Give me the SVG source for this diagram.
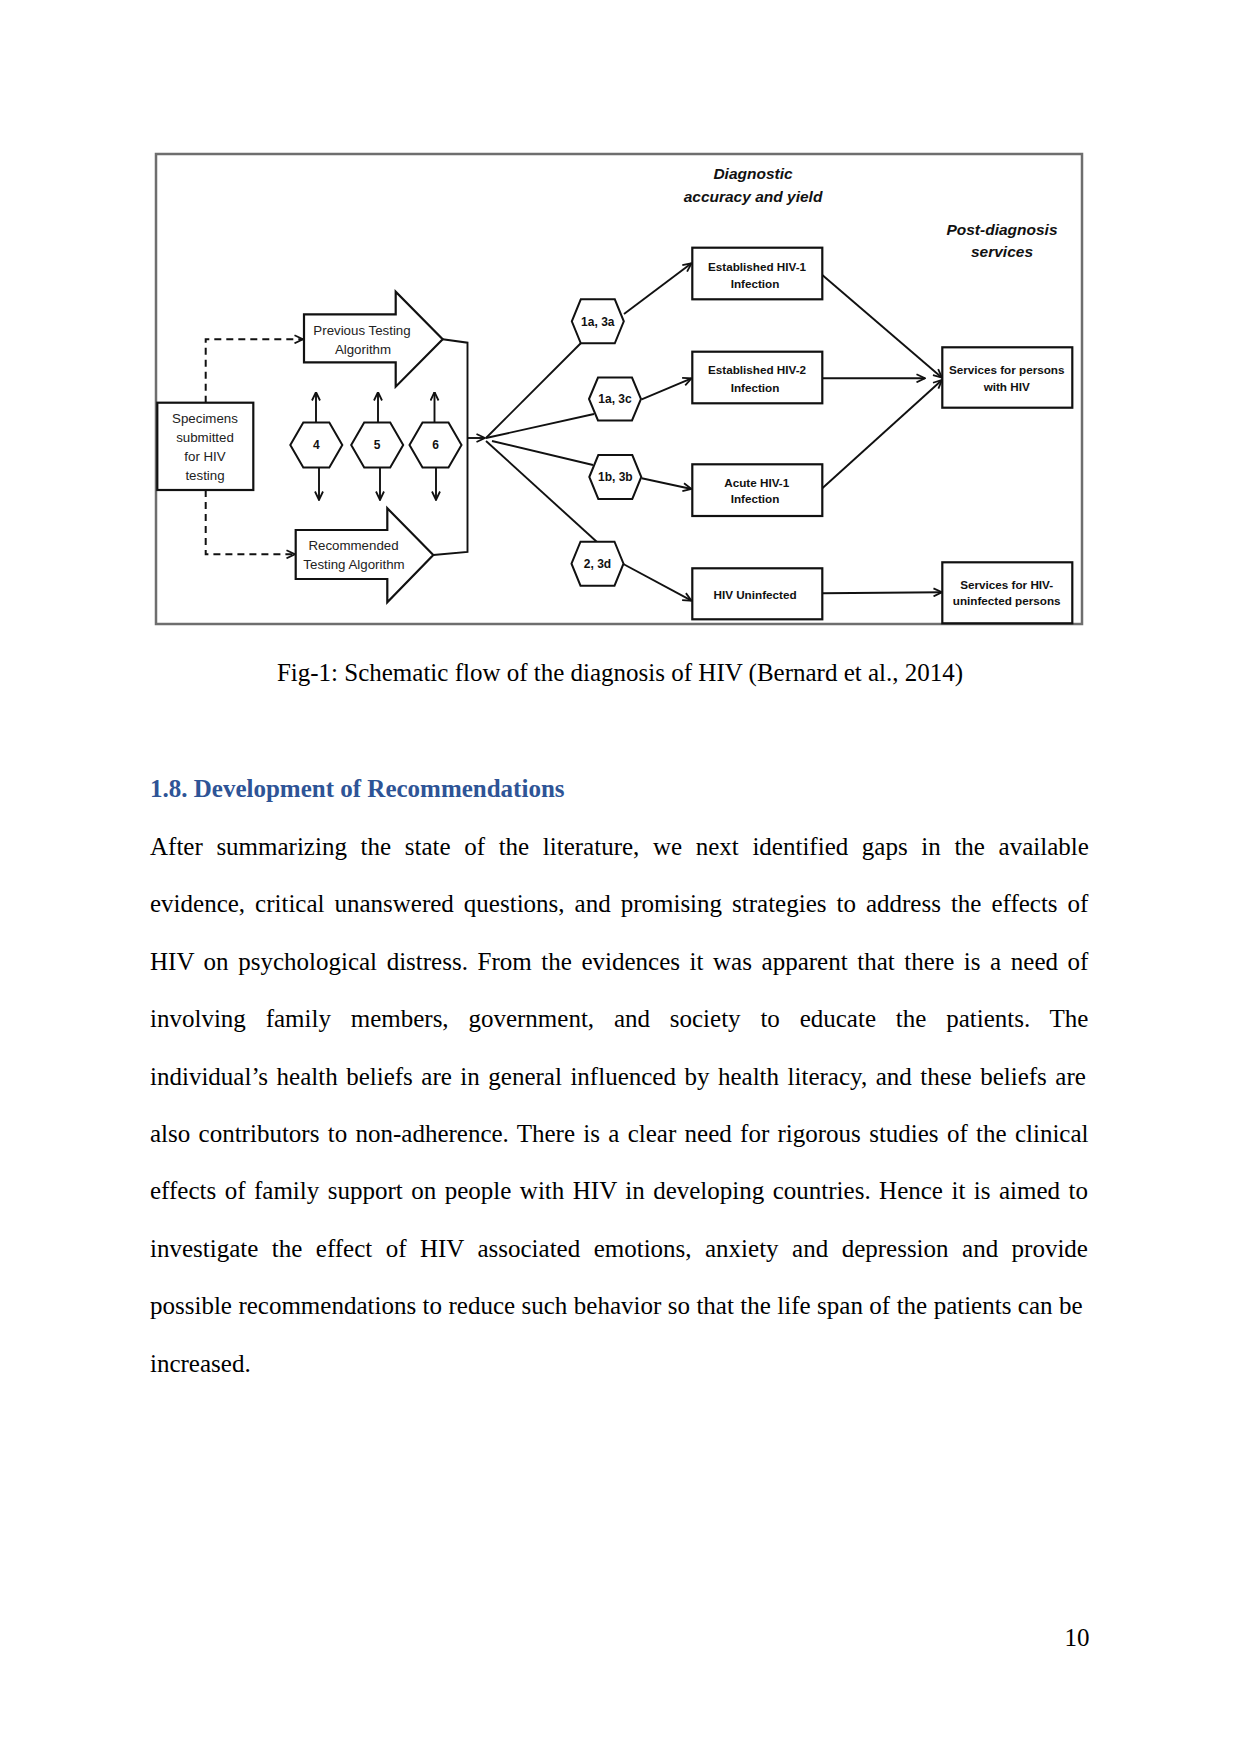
<svg xmlns="http://www.w3.org/2000/svg" width="1241" height="1754" viewBox="0 0 1241 1754">
<style>
.bg{fill:#ffffff}
.frame{fill:none;stroke:#6e6e6e;stroke-width:2.5}
.box{fill:#ffffff;stroke:#111;stroke-width:2.2}
.hex{fill:#ffffff;stroke:#111;stroke-width:2}
.ln{fill:none;stroke:#111;stroke-width:1.9}
.dash{fill:none;stroke:#111;stroke-width:2;stroke-dasharray:7,5}
.arr{marker-end:url(#open)}
.t{font-family:"Liberation Sans",Arial,sans-serif;font-size:13.3px;fill:#222;text-anchor:middle}
.tb{font-family:"Liberation Sans",Arial,sans-serif;font-size:11.7px;font-weight:bold;fill:#111;text-anchor:middle}
.th{font-family:"Liberation Sans",Arial,sans-serif;font-size:12px;font-weight:bold;fill:#111;text-anchor:middle}
.ti{font-family:"Liberation Sans",Arial,sans-serif;font-size:15.5px;font-weight:bold;font-style:italic;fill:#111;text-anchor:middle}
.body{font-family:"Liberation Serif","Times New Roman",serif;font-size:25px;fill:#000}
.head{font-family:"Liberation Serif","Times New Roman",serif;font-size:25px;font-weight:bold;fill:#2E5496}
</style>
<defs>
<marker id="open" viewBox="0 0 10 10" refX="9.5" refY="5" markerWidth="10" markerHeight="10" markerUnits="userSpaceOnUse" orient="auto">
<path d="M1,1 L9.5,5 L1,9" fill="none" stroke="#111" stroke-width="1.8"/>
</marker>
</defs>
<rect class="bg" x="0" y="0" width="1241" height="1754"/>
<rect class="frame" x="156" y="154" width="926" height="470"/>

<g id="titles">
<text class="ti" x="753" y="178.5">Diagnostic</text>
<text class="ti" x="753" y="201.5">accuracy and yield</text>
<text class="ti" x="1002" y="235">Post-diagnosis</text>
<text class="ti" x="1002" y="256.5">services</text>
</g>

<g id="connectors">
<polyline class="dash arr" points="205.7,402.7 205.7,339.3 303,339.3"/>
<polyline class="dash arr" points="205.7,490 205.7,554.3 295,554.3"/>
<polyline class="ln" points="442.7,339.3 467.5,342.7 467.5,552 433.3,555"/>
<line class="ln arr" x1="467.5" y1="438" x2="485" y2="438"/>
<line class="ln arr" x1="316" y1="422" x2="316" y2="392"/>
<line class="ln arr" x1="319" y1="467" x2="319" y2="500"/>
<line class="ln arr" x1="378" y1="422" x2="378" y2="392"/>
<line class="ln arr" x1="380" y1="467" x2="380" y2="500"/>
<line class="ln arr" x1="434.5" y1="422" x2="434.5" y2="392"/>
<line class="ln arr" x1="436" y1="467" x2="436" y2="500"/>
<line class="ln" x1="486" y1="438" x2="581" y2="343"/>
<line class="ln" x1="486" y1="438" x2="594" y2="414"/>
<line class="ln" x1="492" y1="441" x2="593" y2="465"/>
<line class="ln" x1="486" y1="441" x2="597" y2="542"/>
<line class="ln arr" x1="624" y1="314" x2="691.5" y2="263.3"/>
<line class="ln arr" x1="641.7" y1="399.3" x2="691.5" y2="378.3"/>
<line class="ln arr" x1="641.7" y1="478.3" x2="691.5" y2="489"/>
<line class="ln arr" x1="623.3" y1="564" x2="691.5" y2="600.7"/>
<line class="ln arr" x1="822.3" y1="275" x2="942" y2="377.7"/>
<line class="ln arr" x1="822.3" y1="378.3" x2="925" y2="378.3"/>
<line class="ln arr" x1="822.3" y1="488.3" x2="942" y2="380"/>
<line class="ln arr" x1="822.3" y1="593.3" x2="942" y2="592.3"/>
</g>

<g id="specimens">
<rect class="box" x="157.3" y="402.7" width="96" height="87.3"/>
<text class="t" x="205" y="423">Specimens</text>
<text class="t" x="205" y="442">submitted</text>
<text class="t" x="205" y="461">for HIV</text>
<text class="t" x="205" y="480">testing</text>
</g>

<g id="previous-algorithm">
<polygon class="box" points="304,314.3 395.7,314.3 395.7,291.7 442.7,339.3 395.7,386.7 395.7,362.3 304,362.3"/>
<text class="t" x="362" y="335">Previous Testing</text>
<text class="t" x="363" y="353.5">Algorithm</text>
</g>

<g id="recommended-algorithm">
<polygon class="box" points="295.7,530 387.3,530 387.3,508.3 433.3,555 387.3,602.3 387.3,579 295.7,579"/>
<text class="t" x="353.5" y="550">Recommended</text>
<text class="t" x="354" y="568.5">Testing Algorithm</text>
</g>

<g id="hex-4">
<polygon class="hex" points="290.3,445 303.3,422.5 329.3,422.5 342.3,445 329.3,467.5 303.3,467.5"/>
<text class="th" x="316.3" y="449">4</text>
</g>
<g id="hex-5">
<polygon class="hex" points="351.2,445 364.2,422.5 390.2,422.5 403.2,445 390.2,467.5 364.2,467.5"/>
<text class="th" x="377.2" y="449">5</text>
</g>
<g id="hex-6">
<polygon class="hex" points="409.5,445 422.5,422.5 448.5,422.5 461.5,445 448.5,467.5 422.5,467.5"/>
<text class="th" x="435.5" y="449">6</text>
</g>

<g id="hex-1a3a">
<polygon class="hex" points="571.8,321.3 580.8,299.3 614.8,299.3 623.8,321.3 614.8,343.3 580.8,343.3"/>
<text class="th" x="597.8" y="325.5">1a, 3a</text>
</g>
<g id="hex-1a3c">
<polygon class="hex" points="589,399 598,377.5 632,377.5 641,399 632,420.5 598,420.5"/>
<text class="th" x="615" y="403.2">1a, 3c</text>
</g>
<g id="hex-1b3b">
<polygon class="hex" points="589.3,477 598.3,455 632.3,455 641.3,477 632.3,499 598.3,499"/>
<text class="th" x="615.3" y="481.2">1b, 3b</text>
</g>
<g id="hex-23d">
<polygon class="hex" points="571.5,563.7 580.5,541.7 614.5,541.7 623.5,563.7 614.5,585.7 580.5,585.7"/>
<text class="th" x="597.5" y="567.9">2, 3d</text>
</g>

<g id="established-hiv1">
<rect class="box" x="692.3" y="247.7" width="130" height="51.6"/>
<text class="tb" x="757" y="270.5">Established HIV-1</text>
<text class="tb" x="755" y="287.5">Infection</text>
</g>
<g id="established-hiv2">
<rect class="box" x="692.3" y="351.7" width="130" height="51.6"/>
<text class="tb" x="757" y="374">Established HIV-2</text>
<text class="tb" x="755" y="391.5">Infection</text>
</g>
<g id="acute-hiv1">
<rect class="box" x="692.3" y="464.3" width="130" height="51.7"/>
<text class="tb" x="756.7" y="486.7">Acute HIV-1</text>
<text class="tb" x="755" y="503.3">Infection</text>
</g>
<g id="hiv-uninfected">
<rect class="box" x="692.3" y="568.3" width="130" height="51"/>
<text class="tb" x="755" y="599.3">HIV Uninfected</text>
</g>
<g id="services-hiv">
<rect class="box" x="942.3" y="347.3" width="130" height="60.4"/>
<text class="tb" x="1006.7" y="374">Services for persons</text>
<text class="tb" x="1006.7" y="390.7">with HIV</text>
</g>
<g id="services-uninfected">
<rect class="box" x="942.3" y="562.3" width="130" height="61"/>
<text class="tb" x="1006.7" y="589.3">Services for HIV-</text>
<text class="tb" x="1006.7" y="605">uninfected persons</text>
</g>

<text class="body" x="620" y="681" text-anchor="middle">Fig-1: Schematic flow of the diagnosis of HIV (Bernard et al., 2014)</text>

<text class="head" x="150" y="796.7">1.8. Development of Recommendations</text>

<text class="body" x="150" y="855" word-spacing="7.39">After summarizing the state of the literature, we next identified gaps in the available</text>
<text class="body" x="150" y="912.4" word-spacing="3.75">evidence, critical unanswered questions, and promising strategies to address the effects of</text>
<text class="body" x="150" y="969.8" word-spacing="3.35">HIV on psychological distress. From the evidences it was apparent that there is a need of</text>
<text class="body" x="150" y="1027.2" word-spacing="13.56">involving family members, government, and society to educate the patients. The</text>
<text class="body" x="150" y="1084.6" word-spacing="2.27">individual’s health beliefs are in general influenced by health literacy, and these beliefs are</text>
<text class="body" x="150" y="1142" word-spacing="2.06">also contributors to non-adherence. There is a clear need for rigorous studies of the clinical</text>
<text class="body" x="150" y="1199.4" word-spacing="2.24">effects of family support on people with HIV in developing countries. Hence it is aimed to</text>
<text class="body" x="150" y="1256.8" word-spacing="7.22">investigate the effect of HIV associated emotions, anxiety and depression and provide</text>
<text class="body" x="150" y="1314.2" word-spacing="0.2">possible recommendations to reduce such behavior so that the life span of the patients can be</text>
<text class="body" x="150" y="1371.6">increased.</text>

<text class="body" x="1089.5" y="1646" text-anchor="end">10</text>
</svg>
